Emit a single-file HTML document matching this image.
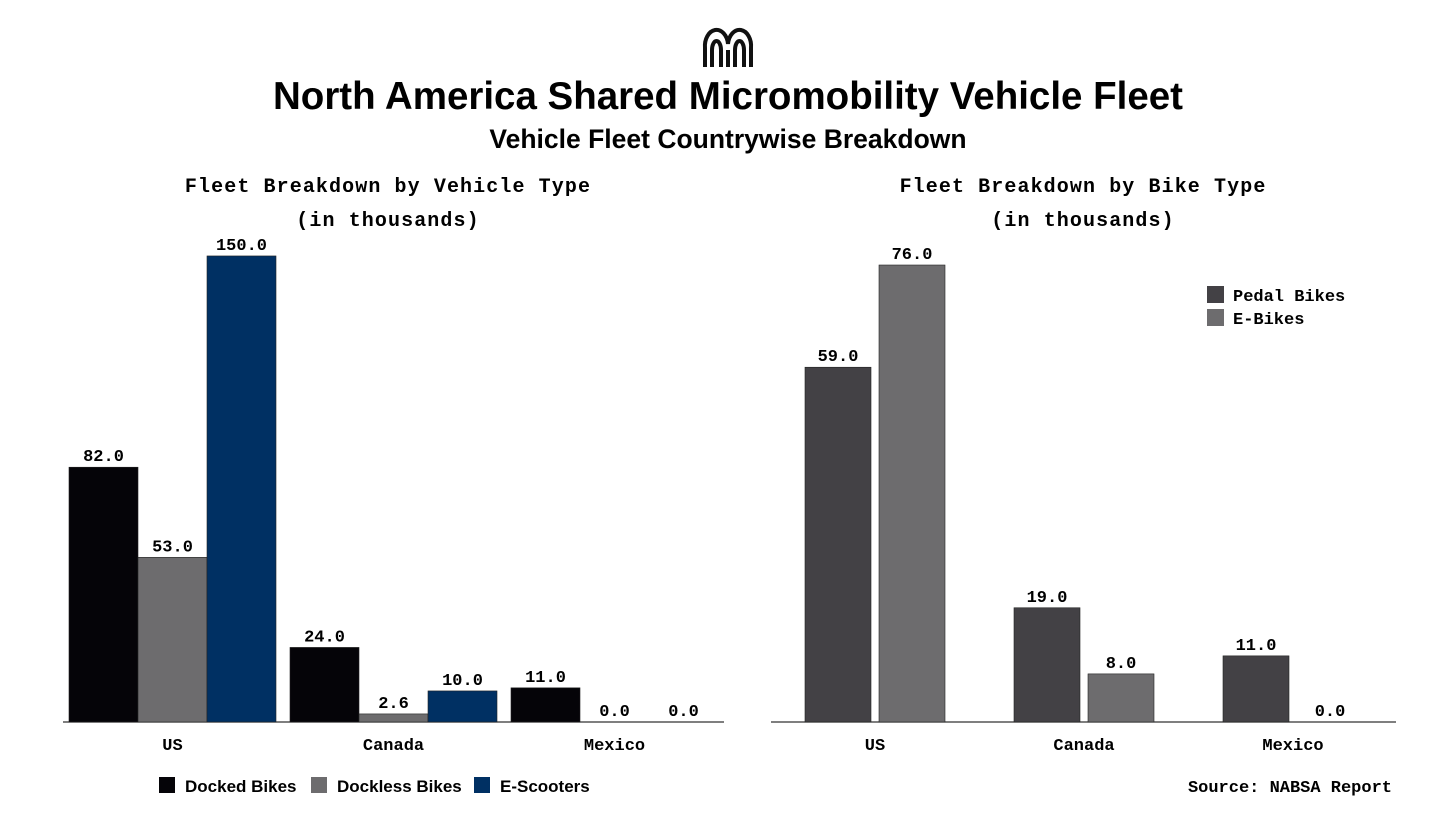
<!DOCTYPE html>
<html><head><meta charset="utf-8"><style>
html,body{margin:0;padding:0;background:#fff;width:1456px;height:819px;overflow:hidden}
text{font-family:"Liberation Sans",sans-serif}
.mono{font-family:"Liberation Mono",monospace;font-weight:bold}
</style></head><body>
<svg id="c" width="1456" height="819" xmlns="http://www.w3.org/2000/svg">
<g fill="none" stroke="#111" stroke-width="4">
<path d="M705 67 V48 A11.5 16 0 0 1 728 44 A11.5 16 0 0 1 751 48 V67"/>
<path d="M712 67 V50 A4 8 0 0 1 721 50 V67"/>
<path d="M735 67 V50 A4 8 0 0 1 744 50 V67"/>
<path d="M728 67 V50"/>
</g>
<text x="728" y="109" text-anchor="middle" font-size="38.5" font-weight="bold" fill="#000">North America Shared Micromobility Vehicle Fleet</text>
<text x="728" y="148" text-anchor="middle" font-size="26.5" font-weight="bold" fill="#000">Vehicle Fleet Countrywise Breakdown</text>
<text class="mono" x="388" y="192" text-anchor="middle" font-size="20" letter-spacing="1.1">Fleet Breakdown by Vehicle Type</text>
<text class="mono" x="388" y="226" text-anchor="middle" font-size="20" letter-spacing="1.1">(in thousands)</text>
<text class="mono" x="1083" y="192" text-anchor="middle" font-size="20" letter-spacing="1.1">Fleet Breakdown by Bike Type</text>
<text class="mono" x="1083" y="226" text-anchor="middle" font-size="20" letter-spacing="1.1">(in thousands)</text>
<line x1="63" x2="724" y1="722" y2="722" stroke="#333" stroke-width="1.2"/>
<line x1="771" x2="1396" y1="722" y2="722" stroke="#333" stroke-width="1.2"/>
<g>
<rect x="159" y="777" width="16" height="16" fill="#050408"/><text x="185" y="792" font-size="17" font-weight="bold">Docked Bikes</text>
<rect x="311" y="777" width="16" height="16" fill="#6d6c6e"/><text x="337" y="792" font-size="17" font-weight="bold">Dockless Bikes</text>
<rect x="474" y="777" width="16" height="16" fill="#003063"/><text x="500" y="792" font-size="17" font-weight="bold">E-Scooters</text>
</g>
<g>
<rect x="1207" y="286" width="17" height="17" fill="#434145"/><text class="mono" x="1233" y="301" font-size="17">Pedal Bikes</text>
<rect x="1207" y="309" width="17" height="17" fill="#6d6c6e"/><text class="mono" x="1233" y="324" font-size="17">E-Bikes</text>
</g>
<text class="mono" x="1392" y="792" text-anchor="end" font-size="17">Source: NABSA Report</text>
<g id="left"></g><g id="right"></g>
</svg>
<script>
const countries = ["US","Canada","Mexico"];
const docked = [82.0, 24.0, 11.0];
const dockless = [53.0, 2.6, 0.0];
const scooters = [150.0, 10.0, 0.0];
const bikeCountries = ["US","Canada","Mexico"];
const pedal = [59.0, 19.0, 11.0];
const ebikes = [76.0, 8.0, 0.0];

const NS="http://www.w3.org/2000/svg";
function mk(tag,attrs,parent){const e=document.createElementNS(NS,tag);for(const k in attrs)e.setAttribute(k,attrs[k]);parent.appendChild(e);return e;}
const base=722;
function draw(g, cats, series, colors, names, yScale, x0, groupStep, barW, gap){
  cats.forEach((c,i)=>{
    const gx=x0+i*groupStep;
    series.forEach((s,j)=>{
      const v=s[i];
      const bx=gx+j*(barW+gap);
      const top=yScale(v);
      const r=mk('rect',{x:bx,y:top,width:barW,height:base-top,fill:colors[j],stroke:v>0?'#222':'none','stroke-width':0.6},g);
      
      
      const t=mk('text',{x:bx+barW/2,y:top-6,'text-anchor':'middle','font-size':17,class:'mono'},g);
      t.textContent=v.toFixed(1);
      
      
    });
    const w=series.length*barW+(series.length-1)*gap;
    const l=mk('text',{x:gx+w/2,y:750,'text-anchor':'middle','font-size':17,class:'mono'},g);
    l.textContent=c;
    
    
  });
}
const yl=v=>base-v*3.107;
const yr=v=>base-v*6.013;
draw(document.getElementById('left'),countries,[docked,dockless,scooters],['#050408','#6d6c6e','#003063'],['docked','dockless','escooter'],yl,69,221,69,0);
draw(document.getElementById('right'),bikeCountries,[pedal,ebikes],['#434145','#6d6c6e'],['pedal','ebike'],yr,805,209,66,8);
</script>
</body></html>
